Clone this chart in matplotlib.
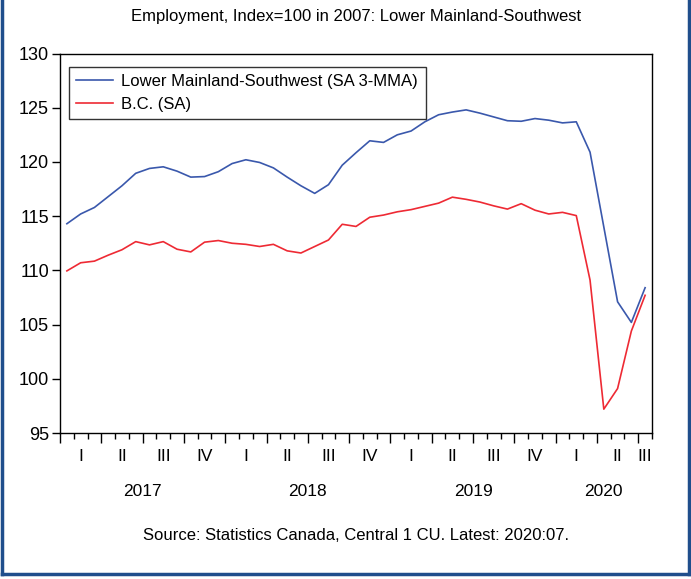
import matplotlib
matplotlib.use("Agg")
import matplotlib.pyplot as plt
from matplotlib.lines import Line2D
import numpy as np

plt.rcParams['font.family'] = ['Liberation Sans', 'DejaVu Sans']

# Monthly data Jan 2017 .. Jul 2020
lower_mainland = [114.3, 115.2, 115.8, 116.8, 117.8, 118.95, 119.4, 119.55, 119.15, 118.6,
                  118.65, 119.1, 119.85, 120.2, 119.95, 119.45, 118.6, 117.8, 117.1, 117.9,
                  119.7, 120.85, 121.95, 121.8, 122.5, 122.85, 123.7, 124.35, 124.6, 124.8,
                  124.5, 124.15, 123.8, 123.75, 124.0, 123.85, 123.6, 123.7, 120.9, 114.0,
                  107.1, 105.2, 108.4]
bc = [109.95, 110.7, 110.85, 111.4, 111.9, 112.65, 112.35, 112.65, 111.95, 111.7,
      112.6, 112.75, 112.5, 112.4, 112.2, 112.4, 111.8, 111.6, 112.2, 112.8,
      114.25, 114.05, 114.9, 115.1, 115.4, 115.6, 115.9, 116.2, 116.75, 116.55,
      116.3, 115.95, 115.65, 116.15, 115.55, 115.2, 115.35, 115.05, 109.1, 97.2,
      99.1, 104.4, 107.7]
quarter_labels = ['I', 'II', 'III', 'IV'] * 3 + ['I', 'II', 'III']
year_labels = ['2017', '2018', '2019', '2020']
legend_labels = ['Lower Mainland-Southwest (SA 3-MMA)', 'B.C. (SA)']

blue = '#3A58AC'
red = '#EE2A34'

fig = plt.figure(figsize=(6.91, 5.79), dpi=100)
ax = fig.add_axes([60/691, 1-433/579, (652-60)/691, (433-53.5)/579])

n = len(bc)
x = np.arange(n) + 0.5
ax.plot(x, lower_mainland, color=blue, lw=1.2)
ax.plot(x, bc, color=red, lw=1.2)

ax.set_xlim(0, n)
ax.set_ylim(95, 130)
ax.set_yticks(np.arange(95, 131, 5))
ax.tick_params(axis='y', direction='out', length=6, width=1, labelsize=13, pad=2)
ax.set_xticks(np.arange(0, n + 1, 3))
ax.set_xticks(np.arange(0, n + 1, 1), minor=True)
ax.tick_params(axis='x', which='major', direction='out', length=7, width=1, labelbottom=False)
ax.tick_params(axis='x', which='minor', direction='out', length=4, width=1)
for s in ax.spines.values():
    s.set_linewidth(1.0)

trans = ax.get_xaxis_transform()
for k, lab in enumerate(quarter_labels):
    start = 3 * k
    end = min(3 * k + 3, n)
    ax.text((start + end) / 2, -0.062, lab, transform=trans, ha='center', va='center', fontsize=12.5)
year_spans = [(0, 12), (12, 24), (24, 36), (36, n)]
for (a, b), lab in zip(year_spans, year_labels):
    ax.text((a + b) / 2, -0.153, lab, transform=trans, ha='center', va='center', fontsize=12.5)

handles = [Line2D([0], [0], color=blue, lw=1.2), Line2D([0], [0], color=red, lw=1.2)]
leg = ax.legend(handles, legend_labels, loc='upper left', bbox_to_anchor=(0.015, 0.965),
                fontsize=12, frameon=True, fancybox=False, edgecolor='black',
                handlelength=2.2, handletextpad=0.5, borderpad=0.45, labelspacing=0.45,
                borderaxespad=0)
leg.get_frame().set_linewidth(1.0)

cx = 356 / 691
fig.text(cx, 1 - 17/579, 'Employment, Index=100 in 2007: Lower Mainland-Southwest',
         ha='center', va='center', fontsize=12)
fig.text(cx, 1 - 535/579, 'Source: Statistics Canada, Central 1 CU. Latest: 2020:07.',
         ha='center', va='center', fontsize=12)

border = '#1F4E8C'
fig.add_artist(Line2D([2/691, 2/691], [1, 1 - 574/579], transform=fig.transFigure, color=border, lw=2.5))
fig.add_artist(Line2D([689/691, 689/691], [1, 1 - 574/579], transform=fig.transFigure, color=border, lw=2.5))
fig.add_artist(Line2D([2/691, 689/691], [1 - 574/579, 1 - 574/579], transform=fig.transFigure, color=border, lw=2.5))

fig.savefig('out.png', dpi=100)
